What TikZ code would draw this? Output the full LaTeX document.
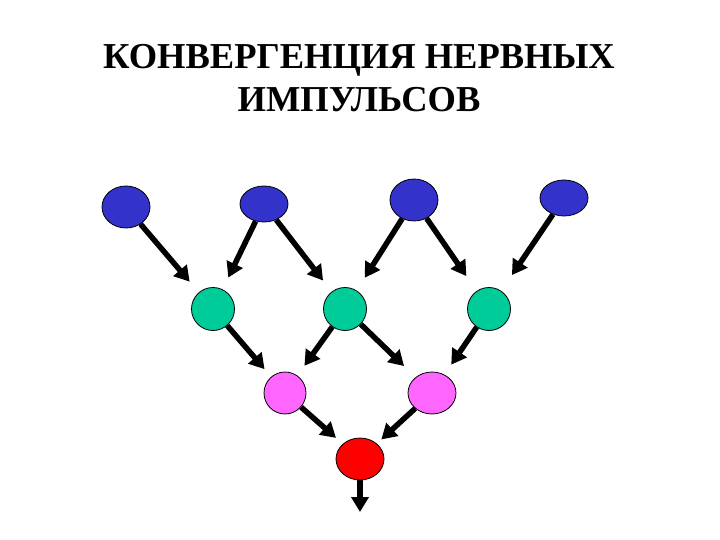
\documentclass[tikz,border=0pt]{standalone}
\usepackage{fontspec}
\setmainfont{Liberation Serif}
\usetikzlibrary{arrows.meta,shapes.geometric}
\definecolor{nblue}{RGB}{51,51,204}
\definecolor{ngreen}{RGB}{0,204,153}
\definecolor{npink}{RGB}{255,102,255}
\definecolor{nred}{RGB}{255,0,0}
\tikzset{
  cell/.style={ellipse, draw=black, line width=0.8pt, inner sep=0pt},
  bluecell/.style={cell, fill=nblue, minimum width=48pt, minimum height=40pt},
  greencell/.style={cell, fill=ngreen, minimum width=43pt, minimum height=43pt},
  pinkcell/.style={cell, fill=npink, minimum width=44pt, minimum height=42pt},
  redcell/.style={cell, fill=nred, minimum width=48pt, minimum height=42pt},
  impulse/.style={line width=5.5pt, -{Triangle[length=15pt,width=17pt]}, shorten <=0pt},
  titletext/.style={font=\fontsize{36.5}{43}\selectfont\bfseries, inner sep=0pt, anchor=base}
}
\begin{document}
\begin{tikzpicture}[x=1pt,y=-1pt]
\useasboundingbox (0,0) rectangle (720,540);
\fill[white] (0,0) rectangle (720,540);
\node[titletext] (t1) at (359,69) {КОНВЕРГЕНЦИЯ НЕРВНЫХ};
\node[titletext] (t2) at (359,112) {ИМПУЛЬСОВ};
% neurons
\node[bluecell, minimum height=42pt] (b1) at (126,207) {};
\node[bluecell, minimum height=36pt] (b2) at (264,204) {};
\node[bluecell, minimum height=42pt] (b3) at (414,200) {};
\node[bluecell, minimum height=36pt] (b4) at (564,198) {};
\node[greencell] (g1) at (213,309) {};
\node[greencell] (g2) at (345,309) {};
\node[greencell] (g3) at (489,309) {};
\node[pinkcell, minimum width=42pt] (p1) at (285,393) {};
\node[pinkcell, minimum width=48pt] (p2) at (432,393) {};
\node[redcell] (r) at (360,459) {};
\coordinate (out) at (360,512);
% arrows
\draw[impulse, shorten >=14pt] (b1) -- (g1);
\draw[impulse, shorten >=13pt] (b2) -- (g1);
\draw[impulse, shorten >=14pt] (b2) -- (g2);
\draw[impulse, shorten >=15pt] (b3) -- (g2);
\draw[impulse, shorten >=18pt] (b3) -- (g3);
\draw[impulse, shorten >=19pt] (b4) -- (g3);
\draw[impulse, shorten >=10pt] (g1) -- (p1);
\draw[impulse, shorten >=12pt] (g2) -- (p1);
\draw[impulse, shorten >=16pt] (g2) -- (p2);
\draw[impulse, shorten >=12pt] (g3) -- (p2);
\draw[impulse, shorten >=9pt] (p1) -- (r);
\draw[impulse, shorten >=6pt] (p2) -- (r);
\draw[impulse] (r) -- (out);
\end{tikzpicture}
\end{document}
